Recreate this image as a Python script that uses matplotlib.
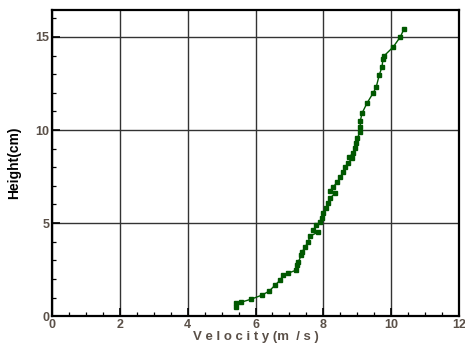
import numpy as np
import matplotlib
matplotlib.use("Agg")
import matplotlib.pyplot as plt
from matplotlib.ticker import MultipleLocator

# Velocity profile
velocity = [5.43, 5.43, 5.58, 5.87, 6.19, 6.40, 6.58, 6.73, 6.81, 6.96, 7.20, 7.23,
            7.26, 7.35, 7.37, 7.46, 7.55, 7.61, 7.85, 7.70, 7.79, 7.91, 7.96, 7.99,
            8.08, 8.14, 8.20, 8.35, 8.20, 8.29, 8.41, 8.50, 8.58, 8.64, 8.73, 8.85,
            8.76, 8.88, 8.94, 8.97, 9.00, 9.09, 9.09, 9.09, 9.14, 9.29, 9.47, 9.56,
            9.65, 9.73, 9.76, 9.79, 10.06, 10.27, 10.38]
height = [0.48, 0.68, 0.75, 0.91, 1.13, 1.34, 1.67, 1.94, 2.20, 2.31, 2.47, 2.74,
          2.90, 3.28, 3.44, 3.71, 3.98, 4.30, 4.52, 4.62, 4.89, 5.05, 5.27, 5.54,
          5.81, 6.08, 6.34, 6.61, 6.72, 6.94, 7.20, 7.47, 7.74, 8.01, 8.23, 8.49,
          8.55, 8.76, 9.03, 9.30, 9.57, 9.89, 10.16, 10.48, 10.90, 11.45, 11.99, 12.31,
          12.96, 13.39, 13.82, 13.98, 14.46, 15.00, 15.43]

x_ticks = [0, 2, 4, 6, 8, 10, 12]
y_ticks = [0, 5, 10, 15]

plt.rcParams['font.family'] = ['Liberation Sans', 'DejaVu Sans']

fig = plt.figure(figsize=(4.65, 3.44), dpi=100)
ax = fig.add_axes([0.112, 0.081, 0.875, 0.890])

ax.plot(velocity, height, color='#005800', linewidth=1.0, marker='s',
        markersize=3.3, markerfacecolor='#005800', markeredgecolor='#005800')

ax.set_xlim(0, 12)
ax.set_ylim(0, 16.45)
ax.set_xticks(x_ticks)
ax.set_yticks(y_ticks)
ax.xaxis.set_minor_locator(MultipleLocator(0.5))
ax.yaxis.set_minor_locator(MultipleLocator(1))
ax.grid(True, which='major', color='#333333', linewidth=1.0)

for s in ax.spines.values():
    s.set_linewidth(1.6)
    s.set_color('black')

ax.tick_params(which='major', direction='in', length=6, width=1.2,
               labelsize=9, labelcolor='#5a5048', pad=2)
ax.tick_params(which='minor', direction='in', length=3, width=0.9)
ax.tick_params(top=False, right=False, which='both')
for lab in ax.get_xticklabels() + ax.get_yticklabels():
    lab.set_fontweight('bold')

ax.set_xlabel('V e l o c i t y (m  / s )', fontsize=9.5, fontweight='bold',
              color='#5a5048', labelpad=0)
ax.set_ylabel('Height(cm)', fontsize=10, fontweight='bold', color='black',
              labelpad=10)

fig.savefig('out.png', dpi=100)
